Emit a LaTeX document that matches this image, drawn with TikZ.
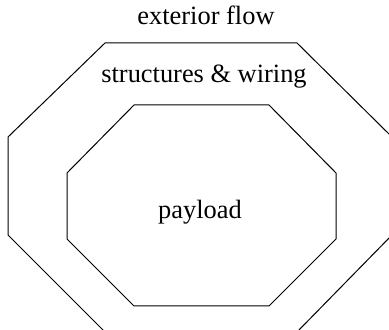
\documentclass[tikz,border=0pt]{standalone}
\usepackage{fontspec}
\setmainfont{Liberation Serif}
\usepackage{tikz}

\begin{document}
\begin{tikzpicture}
  [
   x=0.5pt,y=0.5pt,
   wall/.style={draw=black,line width=0.5pt,line join=miter},
   lbl/.style={inner sep=0pt,anchor=base,font=\fontsize{13.2}{16}\selectfont}
  ]
   \useasboundingbox (0,0) rectangle (389,330);
   \clip (0,0) rectangle (389,330);

   % outer hull
   \draw[wall] (105,287) -- (297,287) -- (392,193) -- (392,95)
               -- (297,-2) -- (105,-2) -- (8,95) -- (8,193) -- cycle;
   % payload bay
   \draw[wall] (134,225) -- (269,225) -- (336,157) -- (336,91)
               -- (269,24) -- (134,24) -- (67,91) -- (67,157) -- cycle;

   \node[lbl] (ext)  at (206,305) {exterior flow};
   \node[lbl] (str)  at (204,247) {structures \& wiring};
   \node[lbl] (pay)  at (200,111) {payload};
\end{tikzpicture}
\end{document}
